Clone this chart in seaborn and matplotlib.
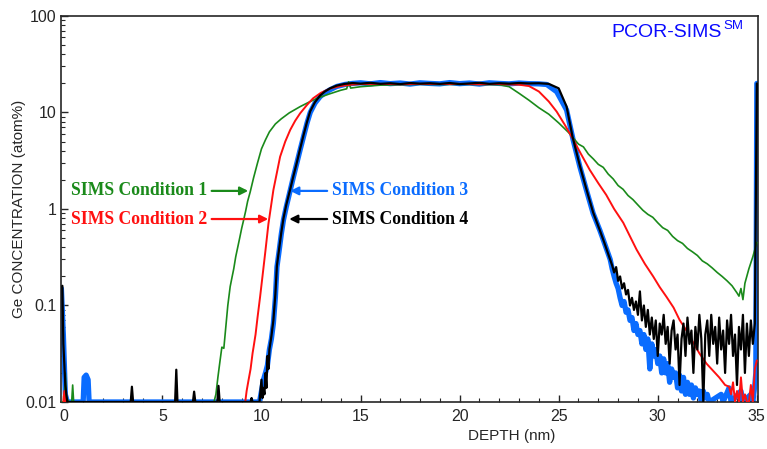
import matplotlib
matplotlib.use('Agg')
import matplotlib.pyplot as plt
import seaborn as sns
import pandas as pd
from matplotlib.ticker import MultipleLocator, LogLocator, NullFormatter

# Profundidad (nm) y concentracion de Ge (atom%)
cond1_depth = [-0.1, 0.05, 0.1, 0.15, 0.3, 0.42, 0.47, 0.52, 0.6, 7.6, 7.7, 7.8, 7.9, 8.0, 8.1, 8.2, 8.3, 8.42,
               8.5, 8.6, 8.7, 8.8, 8.9, 9.0, 9.1, 9.2, 9.3, 9.43, 9.6, 9.8, 10.0, 10.2, 10.4, 10.7, 11.0,
               11.4, 11.95, 12.4, 12.8, 13.4, 14.0, 14.3, 14.4, 14.5, 15.0, 16.0, 17.0, 18.0, 19.0, 20.0,
               21.0, 22.0, 22.5, 23.0, 23.5, 24.0, 24.5, 25.0, 25.5, 26.0, 26.25, 26.5, 26.75, 27.0, 27.25,
               27.5, 27.75, 28.0, 28.25, 28.5, 28.75, 29.0, 29.25, 29.5, 29.75, 30.0, 30.25, 30.5, 30.75,
               31.0, 31.25, 31.5, 31.75, 32.0, 32.25, 32.5, 32.75, 33.0, 33.25, 33.5, 33.75, 34.0, 34.1,
               34.2, 34.3, 34.4, 34.6, 34.8, 35.0]
cond1_conc = [0.01, 0.01, 0.02, 0.011, 0.01, 0.01, 0.015, 0.01, 0.01, 0.01, 0.012, 0.018, 0.026, 0.037, 0.036,
              0.06, 0.1, 0.157, 0.19, 0.24, 0.32, 0.4, 0.5, 0.63, 0.77, 0.95, 1.2, 1.5, 2.1, 3.0, 4.2, 5.2,
              6.3, 7.6, 8.6, 9.9, 11.5, 12.8, 14.0, 15.5, 17.0, 17.6, 20.8, 17.9, 18.5, 19.2, 19.4, 19.6,
              19.5, 19.6, 19.5, 19.4, 18.5, 15.8, 13.4, 11.2, 9.6, 7.8, 6.2, 4.7, 4.4, 3.7, 3.3, 2.9, 2.7,
              2.3, 2.05, 1.75, 1.6, 1.38, 1.25, 1.1, 0.97, 0.88, 0.82, 0.72, 0.64, 0.6, 0.52, 0.47, 0.44,
              0.39, 0.36, 0.33, 0.29, 0.27, 0.245, 0.22, 0.2, 0.18, 0.16, 0.135, 0.125, 0.15, 0.115, 0.17,
              0.24, 0.32, 0.45]

cond2_depth = [0.0, 0.05, 0.1, 9.18, 9.25, 9.35, 9.45, 9.55, 9.6, 9.7, 9.8, 9.93, 10.05, 10.2, 10.35, 10.6,
               10.94, 11.2, 11.45, 11.7, 11.95, 12.3, 12.6, 13.0, 13.5, 14.0, 14.5, 15.0, 16.0, 17.0, 18.0,
               19.0, 20.0, 21.0, 22.0, 23.0, 23.5, 24.0, 24.5, 24.9, 25.3, 25.7, 26.1, 26.57, 27.0, 27.4,
               27.8, 28.26, 28.6, 28.93, 29.35, 29.77, 30.1, 30.44, 30.8, 31.1, 31.5, 31.8, 32.1, 32.46,
               32.8, 33.1, 33.4, 33.6, 33.7, 33.8, 33.9, 34.0, 34.1, 34.2, 34.3, 34.4, 34.5, 34.6, 34.7,
               34.8, 34.9, 35.0]
cond2_conc = [0.01, 0.013, 0.01, 0.01, 0.013, 0.017, 0.022, 0.032, 0.037, 0.05, 0.075, 0.123, 0.2, 0.37,
              0.7, 1.57, 3.48, 5.0, 6.6, 8.2, 9.8, 12.0, 14.0, 16.0, 17.8, 18.8, 19.4, 19.7, 19.8, 19.6,
              19.8, 19.7, 19.8, 19.6, 19.7, 19.4, 18.8, 16.5, 13.0, 10.2, 7.5, 5.4, 3.8, 2.54, 1.85, 1.4,
              1.0, 0.72, 0.52, 0.38, 0.27, 0.2, 0.155, 0.123, 0.095, 0.071, 0.053, 0.041, 0.032, 0.025,
              0.021, 0.018, 0.015, 0.0144, 0.012, 0.016, 0.01, 0.013, 0.01, 0.018, 0.01, 0.012, 0.01, 0.01,
              0.015, 0.01, 0.022, 0.027]

cond3_depth = [-0.1, 0.0, 0.05, 0.1, 0.2, 1.0, 1.05, 1.15, 1.25, 1.3, 9.9, 10.0, 10.1, 10.2, 10.3, 10.4, 10.5,
               10.6, 10.7, 10.78, 10.9, 11.0, 11.11, 11.25, 11.45, 11.6, 11.78, 11.95, 12.12, 12.3, 12.46,
               12.7, 12.96, 13.2, 13.46, 13.8, 14.2, 14.6, 15.0, 15.5, 16.0, 16.5, 17.0, 17.5, 18.0, 18.5,
               19.0, 19.5, 20.0, 20.5, 21.0, 21.5, 22.0, 22.5, 23.0, 23.5, 24.0, 24.4, 24.9, 25.4, 25.73,
               26.07, 26.4, 26.74, 27.08, 27.25, 27.6, 27.7, 27.8, 27.9, 28.0, 28.1, 28.2, 28.3, 28.4,
               28.5, 28.6, 28.7, 28.8, 28.9, 29.0, 29.1, 29.2, 29.3, 29.4, 29.5, 29.6, 29.7, 29.8, 29.9,
               30.0, 30.1, 30.2, 30.3, 30.4, 30.5, 30.6, 30.7, 30.8, 30.9, 31.0, 31.1, 31.2, 31.3, 31.4,
               31.5, 31.6, 31.7, 31.8, 31.9, 32.0, 32.1, 32.2, 32.3, 32.4, 32.5, 32.6, 33.2, 33.3, 33.6,
               33.7, 34.2, 34.3, 34.7, 34.8, 34.9, 34.95, 35.0]
cond3_conc = [0.15, 0.05, 0.025, 0.012, 0.01, 0.01, 0.018, 0.019, 0.017, 0.01, 0.01, 0.013, 0.017, 0.02,
              0.024, 0.035, 0.045, 0.065, 0.12, 0.25, 0.38, 0.55, 0.77, 1.05, 1.57, 2.1, 2.97, 4.1, 5.6,
              7.8, 10.0, 12.5, 14.6, 16.0, 17.2, 18.6, 19.5, 20.0, 20.3, 19.8, 20.4, 19.9, 20.2, 19.7, 20.3,
              20.0, 19.8, 20.4, 19.9, 20.2, 19.7, 20.3, 20.0, 19.8, 20.2, 19.9, 19.8, 19.5, 16.4, 10.6, 5.2,
              2.74, 1.57, 0.9, 0.6, 0.48, 0.3, 0.24, 0.2, 0.17, 0.15, 0.12, 0.1, 0.11, 0.085, 0.09, 0.07,
              0.075, 0.055, 0.065, 0.05, 0.055, 0.04, 0.05, 0.035, 0.045, 0.022, 0.04, 0.03, 0.035, 0.025,
              0.03, 0.02, 0.028, 0.02, 0.025, 0.016, 0.022, 0.018, 0.02, 0.014, 0.019, 0.013, 0.018, 0.012,
              0.016, 0.012, 0.015, 0.011, 0.014, 0.012, 0.013, 0.01, 0.013, 0.011, 0.012, 0.01, 0.012, 0.01,
              0.014, 0.01, 0.013, 0.01, 0.012, 0.01, 0.015, 0.02, 20.0]

cond4_depth = [-0.05, 0.0, 0.1, 0.15, 0.2, 3.4, 3.46, 3.52, 5.64, 5.7, 5.76, 6.54, 6.6, 6.66, 7.77, 7.83,
               7.89, 9.45, 9.5, 9.55, 9.9, 10.0, 10.05, 10.1, 10.15, 10.2, 10.25, 10.3, 10.35, 10.4, 10.5,
               10.6, 10.7, 10.78, 10.9, 11.0, 11.11, 11.25, 11.45, 11.6, 11.78, 11.95, 12.12, 12.3, 12.46,
               12.7, 12.96, 13.2, 13.46, 13.8, 14.2, 14.6, 15.0, 15.5, 16.0, 16.5, 17.0, 17.5, 18.0, 18.5,
               19.0, 19.5, 20.0, 20.5, 21.0, 21.5, 22.0, 22.5, 23.0, 23.5, 24.0, 24.5, 25.0, 25.4, 25.7,
               26.07, 26.4, 26.74, 27.08, 27.3, 27.6, 27.7, 27.8, 27.9, 28.0, 28.1, 28.2, 28.3, 28.4, 28.5,
               28.6, 28.7, 28.8, 28.9, 29.0, 29.1, 29.2, 29.3, 29.4, 29.5, 29.6, 29.7, 29.8, 29.9, 30.0,
               30.1, 30.2, 30.3, 30.4, 30.5, 30.6, 30.7, 30.8, 30.9, 31.0, 31.1, 31.2, 31.3, 31.4, 31.5,
               31.6, 31.7, 31.8, 31.9, 32.0, 32.1, 32.2, 32.3, 32.4, 32.5, 32.6, 32.7, 32.8, 32.9, 33.0,
               33.1, 33.2, 33.3, 33.4, 33.5, 33.6, 33.7, 33.8, 33.9, 34.0, 34.1, 34.2, 34.3, 34.4, 34.5,
               34.6, 34.7, 34.8, 34.9, 35.0]
cond4_conc = [0.16, 0.04, 0.015, 0.012, 0.01, 0.01, 0.0144, 0.01, 0.01, 0.0216, 0.01, 0.01, 0.0128, 0.01,
              0.01, 0.0147, 0.01, 0.01, 0.011, 0.01, 0.01, 0.017, 0.011, 0.014, 0.012, 0.02, 0.014, 0.03,
              0.022, 0.035, 0.048, 0.07, 0.13, 0.26, 0.4, 0.57, 0.8, 1.1, 1.6, 2.15, 3.0, 4.2, 5.8, 8.0, 10.3,
              12.8, 15.0, 16.5, 17.8, 19.0, 19.8, 20.2, 19.9, 20.3, 19.8, 20.1, 19.7, 20.2, 19.9, 20.1, 19.8,
              20.2, 19.7, 20.0, 20.3, 19.8, 20.1, 19.9, 20.2, 20.0, 20.1, 19.8, 17.8, 11.5, 5.6, 2.8, 1.6,
              0.92, 0.6, 0.45, 0.3, 0.26, 0.22, 0.25, 0.18, 0.2, 0.15, 0.17, 0.13, 0.145, 0.1, 0.12, 0.09,
              0.11, 0.08, 0.14, 0.07, 0.1, 0.06, 0.09, 0.05, 0.075, 0.045, 0.07, 0.03, 0.065, 0.05, 0.08,
              0.04, 0.06, 0.025, 0.055, 0.07, 0.035, 0.05, 0.015, 0.045, 0.065, 0.03, 0.075, 0.04, 0.055,
              0.02, 0.06, 0.035, 0.08, 0.045, 0.01, 0.05, 0.07, 0.03, 0.08, 0.04, 0.06, 0.025, 0.075, 0.035,
              0.055, 0.02, 0.07, 0.04, 0.08, 0.03, 0.05, 0.015, 0.06, 0.035, 0.08, 0.02, 0.065, 0.03, 0.07,
              0.04, 0.065, 20.0]

labels = ['SIMS Condition 1', 'SIMS Condition 2', 'SIMS Condition 3', 'SIMS Condition 4']
colors = ['#1a8a1a', '#ff1010', '#0a6cff', '#000000']
y_ticks = [0.01, 0.1, 1, 10, 100]
y_ticklabels = ['0.01', '0.1', '1', '10', '100']

sns.set_style('ticks')
plt.rcParams['font.family'] = ['Liberation Sans', 'DejaVu Sans']

fig = plt.figure(figsize=(7.67, 4.49), dpi=100)
ax = fig.add_axes([0.0795, 0.1047, 0.9085, 0.8597])

curvas = [(cond3_depth, cond3_conc, colors[2], 3.8, 2),
          (cond1_depth, cond1_conc, colors[0], 1.2, 3),
          (cond2_depth, cond2_conc, colors[1], 1.4, 4),
          (cond4_depth, cond4_conc, colors[3], 1.6, 5)]
for d, c, col, lw, z in curvas:
    df = pd.DataFrame({'depth': d, 'conc': c})
    sns.lineplot(data=df, x='depth', y='conc', color=col, linewidth=lw,
                 estimator=None, sort=False, ax=ax, zorder=z)

ax.set_yscale('log')
ax.set_ylim(0.01, 100)
ax.set_xlim(-0.12, 35.05)
ax.set_yticks(y_ticks, labels=y_ticklabels)
ax.yaxis.set_minor_locator(LogLocator(base=10, subs=range(2, 10)))
ax.yaxis.set_minor_formatter(NullFormatter())
ax.xaxis.set_major_locator(MultipleLocator(5))
ax.xaxis.set_minor_locator(MultipleLocator(1))
ax.tick_params(which='major', direction='in', length=5, width=1, labelsize=11.5, pad=3)
ax.tick_params(which='minor', direction='in', length=3, width=0.8)
ax.tick_params(axis='x', pad=5)
for s in ax.spines.values():
    s.set_linewidth(1.2)

ax.set_xlabel('DEPTH (nm)', fontsize=11)
ax.xaxis.set_label_coords(0.647, -0.07)
ax.set_ylabel('Ge CONCENTRATION (atom%)', fontsize=11)
ax.yaxis.set_label_coords(-0.05, 0.5)

ax.text(0.948, 0.956, 'PCOR-SIMS', transform=ax.transAxes, ha='right', va='center',
        fontsize=14, color='#0a0aff')
ax.text(0.951, 0.975, 'SM', transform=ax.transAxes, ha='left', va='center',
        fontsize=9.5, color='#0a0aff')

serif = ['Liberation Serif', 'DejaVu Serif']
ax.annotate(labels[0], xy=(9.33, 1.54), xytext=(7.25, 1.54), ha='right', va='center',
            fontsize=12.7, fontweight='bold', family=serif, color=colors[0],
            arrowprops=dict(arrowstyle='-|>', color=colors[0], lw=1.6, mutation_scale=12, shrinkA=1, shrinkB=0))
ax.annotate(labels[1], xy=(10.34, 0.787), xytext=(7.25, 0.787), ha='right', va='center',
            fontsize=12.7, fontweight='bold', family=serif, color=colors[1],
            arrowprops=dict(arrowstyle='-|>', color=colors[1], lw=1.6, mutation_scale=12, shrinkA=1, shrinkB=0))
ax.annotate(labels[2], xy=(11.45, 1.54), xytext=(13.55, 1.54), ha='left', va='center',
            fontsize=12.7, fontweight='bold', family=serif, color=colors[2],
            arrowprops=dict(arrowstyle='-|>', color=colors[2], lw=1.6, mutation_scale=12, shrinkA=1, shrinkB=0))
ax.annotate(labels[3], xy=(11.4, 0.787), xytext=(13.55, 0.787), ha='left', va='center',
            fontsize=12.7, fontweight='bold', family=serif, color=colors[3],
            arrowprops=dict(arrowstyle='-|>', color=colors[3], lw=1.6, mutation_scale=12, shrinkA=1, shrinkB=0))

fig.savefig('out.png', dpi=100)
